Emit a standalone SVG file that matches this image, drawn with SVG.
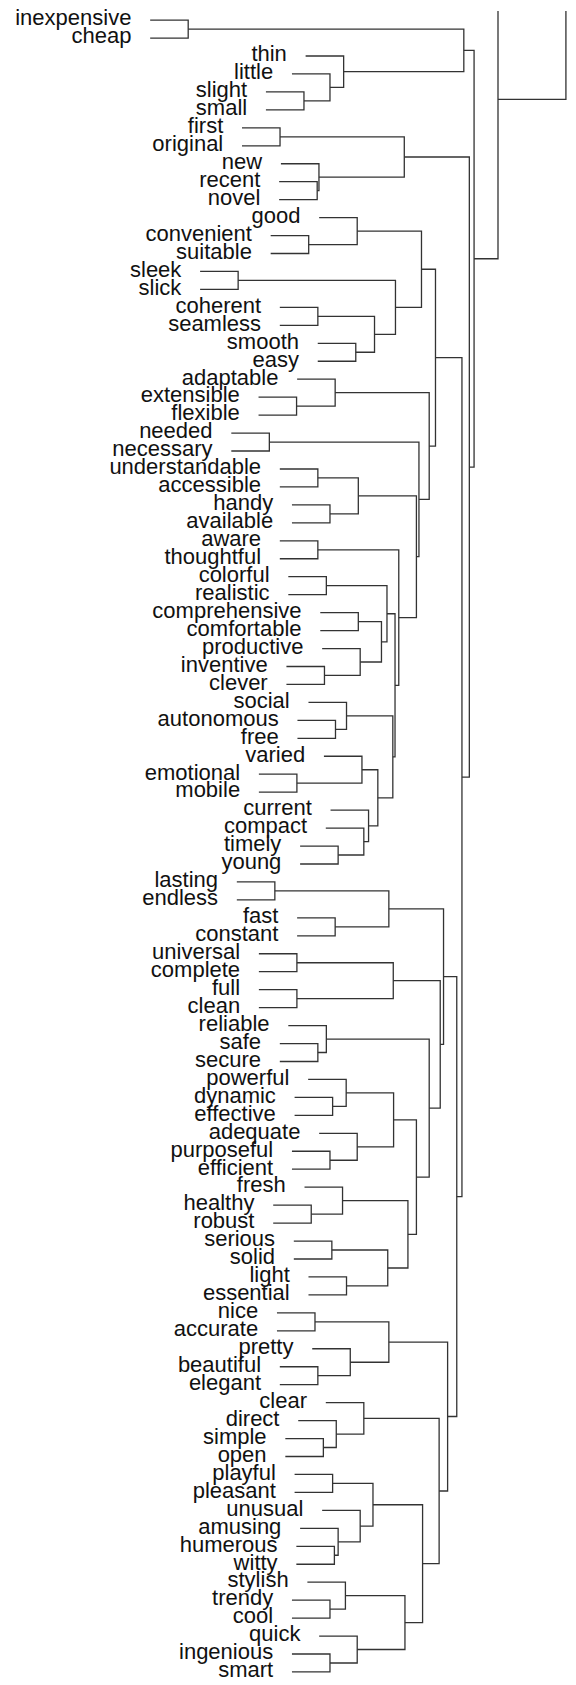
<svg xmlns="http://www.w3.org/2000/svg" width="576" height="1685" viewBox="0 0 576 1685">
<style>
.lbl{font-family:"Liberation Sans",Arial,Helvetica,sans-serif;font-size:22px;fill:#111;text-anchor:end}
.c path{fill:none;stroke:#333;stroke-width:1.3;vector-effect:non-scaling-stroke}
</style>
<rect width="576" height="1685" fill="#fff"/>
<g id="connectors" class="c" transform="scale(1.1025 1)">
<path d="M136.2 20.1 H170.7 V38.06 H136.2"/>
<path d="M241.2 91.92 H275.7 V109.88 H241.2"/>
<path d="M264.8 73.97 H299.3 V100.9 H275.7"/>
<path d="M277.2 56.01 H311.7 V87.44 H299.3"/>
<path d="M170.7 29.08 H420.7 V71.72 H311.7"/>
<path d="M219.5 127.83 H254 V145.79 H219.5"/>
<path d="M253.2 181.7 H287.7 V199.65 H253.2"/>
<path d="M254.8 163.74 H289.3 V190.68 H287.7"/>
<path d="M254 136.81 H366.7 V177.21 H289.3"/>
<path d="M245.5 235.56 H280 V253.52 H245.5"/>
<path d="M289.5 217.61 H324 V244.54 H280"/>
<path d="M181.5 271.47 H216 V289.43 H181.5"/>
<path d="M253.8 307.38 H288.3 V325.34 H253.8"/>
<path d="M288.2 343.29 H322.7 V361.25 H288.2"/>
<path d="M288.3 316.36 H339.7 V352.27 H322.7"/>
<path d="M216 280.45 H358.7 V334.32 H339.7"/>
<path d="M324 231.08 H382.3 V307.38 H358.7"/>
<path d="M234.5 397.16 H269 V415.11 H234.5"/>
<path d="M269.5 379.2 H304 V406.14 H269"/>
<path d="M209.8 433.07 H244.3 V451.02 H209.8"/>
<path d="M253.8 468.98 H288.3 V486.93 H253.8"/>
<path d="M264.8 504.89 H299.3 V522.84 H264.8"/>
<path d="M288.3 477.96 H325 V513.87 H299.3"/>
<path d="M253.8 540.8 H288.3 V558.75 H253.8"/>
<path d="M261.5 576.71 H296 V594.66 H261.5"/>
<path d="M290.5 612.62 H325 V630.57 H290.5"/>
<path d="M259.8 666.48 H294.3 V684.44 H259.8"/>
<path d="M292.2 648.53 H326.7 V675.46 H294.3"/>
<path d="M325 621.6 H346 V662 H326.7"/>
<path d="M296 585.69 H351 V641.8 H346"/>
<path d="M269.8 720.35 H304.3 V738.3 H269.8"/>
<path d="M279.8 702.39 H314.3 V729.33 H304.3"/>
<path d="M234.8 774.21 H269.3 V792.17 H234.8"/>
<path d="M293.8 756.26 H328.3 V783.19 H269.3"/>
<path d="M272.2 846.03 H306.7 V863.99 H272.2"/>
<path d="M295.5 828.08 H330 V855.01 H306.7"/>
<path d="M299.8 810.12 H334.3 V841.55 H330"/>
<path d="M328.3 769.73 H342.7 V825.83 H334.3"/>
<path d="M314.3 715.86 H356.3 V797.78 H342.7"/>
<path d="M351 613.74 H358.3 V756.82 H356.3"/>
<path d="M288.3 549.78 H361.7 V685.28 H358.3"/>
<path d="M325 495.91 H377.7 V617.53 H361.7"/>
<path d="M244.3 442.05 H380 V556.72 H377.7"/>
<path d="M304 392.67 H389.3 V499.38 H380"/>
<path d="M382.3 269.23 H395 V446.03 H389.3"/>
<path d="M214.8 881.94 H249.3 V899.9 H214.8"/>
<path d="M269.5 917.85 H304 V935.81 H269.5"/>
<path d="M249.3 890.92 H352.7 V926.83 H304"/>
<path d="M234.8 953.76 H269.3 V971.72 H234.8"/>
<path d="M234.8 989.67 H269.3 V1007.63 H234.8"/>
<path d="M269.3 962.74 H356.7 V998.65 H269.3"/>
<path d="M253.8 1043.54 H288.3 V1061.49 H253.8"/>
<path d="M261.5 1025.58 H296 V1052.52 H288.3"/>
<path d="M267.2 1097.4 H301.7 V1115.36 H267.2"/>
<path d="M279.5 1079.45 H314 V1106.38 H301.7"/>
<path d="M264.8 1151.27 H299.3 V1169.22 H264.8"/>
<path d="M289.5 1133.31 H324 V1160.25 H299.3"/>
<path d="M314 1092.92 H357 V1146.78 H324"/>
<path d="M247.8 1205.13 H282.3 V1223.09 H247.8"/>
<path d="M276.2 1187.18 H310.7 V1214.11 H282.3"/>
<path d="M266.5 1241.04 H301 V1259 H266.5"/>
<path d="M279.8 1276.95 H314.3 V1294.91 H279.8"/>
<path d="M301 1250.02 H351.7 V1285.93 H314.3"/>
<path d="M310.7 1200.65 H370 V1267.98 H351.7"/>
<path d="M357 1119.85 H377.7 V1234.31 H370"/>
<path d="M296 1039.05 H389.3 V1177.08 H377.7"/>
<path d="M356.7 980.7 H399.3 V1108.07 H389.3"/>
<path d="M352.7 908.87 H402.3 V1044.38 H399.3"/>
<path d="M251.2 1312.86 H285.7 V1330.82 H251.2"/>
<path d="M253.8 1366.73 H288.3 V1384.68 H253.8"/>
<path d="M283.2 1348.77 H317.7 V1375.7 H288.3"/>
<path d="M285.7 1321.84 H352.7 V1362.24 H317.7"/>
<path d="M258.8 1438.55 H293.3 V1456.5 H258.8"/>
<path d="M270.5 1420.59 H305 V1447.52 H293.3"/>
<path d="M295.5 1402.64 H330 V1434.06 H305"/>
<path d="M267.2 1474.46 H301.7 V1492.41 H267.2"/>
<path d="M268.8 1546.28 H303.3 V1564.23 H268.8"/>
<path d="M272.2 1528.32 H306.7 V1555.25 H303.3"/>
<path d="M292.2 1510.37 H326.7 V1541.79 H306.7"/>
<path d="M301.7 1483.43 H338.3 V1526.08 H326.7"/>
<path d="M264.8 1600.14 H299.3 V1618.1 H264.8"/>
<path d="M278.8 1582.19 H313.3 V1609.12 H299.3"/>
<path d="M264.8 1654.01 H299.3 V1671.96 H264.8"/>
<path d="M289.5 1636.05 H324 V1662.98 H299.3"/>
<path d="M313.3 1595.65 H367.3 V1649.52 H324"/>
<path d="M338.3 1504.75 H383.3 V1622.58 H367.3"/>
<path d="M330 1418.35 H398.3 V1563.67 H383.3"/>
<path d="M352.7 1342.04 H406 V1491.01 H398.3"/>
<path d="M402.3 976.63 H414.3 V1416.52 H406"/>
<path d="M395 357.63 H419 V1196.58 H414.3"/>
<path d="M366.7 157.01 H425.7 V777.1 H419"/>
<path d="M420.7 50.4 H430 V467.06 H425.7"/>
<path d="M430 258.73 H451.7 V11"/>
<path d="M451.7 99.3 H513.3 V11"/>
</g>
<g id="leaf-inexpensive"><text class="lbl" transform="translate(131.42 25.4)">inexpensive</text></g>
<g id="leaf-cheap"><text class="lbl" transform="translate(131.42 43.36)">cheap</text></g>
<g id="leaf-thin"><text class="lbl" transform="translate(286.87 61.31)">thin</text></g>
<g id="leaf-little"><text class="lbl" transform="translate(273.2 79.27)">little</text></g>
<g id="leaf-slight"><text class="lbl" transform="translate(247.18 97.22)">slight</text></g>
<g id="leaf-small"><text class="lbl" transform="translate(247.18 115.18)">small</text></g>
<g id="leaf-first"><text class="lbl" transform="translate(223.26 133.13)">first</text></g>
<g id="leaf-original"><text class="lbl" transform="translate(223.26 151.09)">original</text></g>
<g id="leaf-new"><text class="lbl" transform="translate(262.17 169.04)">new</text></g>
<g id="leaf-recent"><text class="lbl" transform="translate(260.41 187)">recent</text></g>
<g id="leaf-novel"><text class="lbl" transform="translate(260.41 204.95)">novel</text></g>
<g id="leaf-good"><text class="lbl" transform="translate(300.43 222.91)">good</text></g>
<g id="leaf-convenient"><text class="lbl" transform="translate(251.92 240.86)">convenient</text></g>
<g id="leaf-suitable"><text class="lbl" transform="translate(251.92 258.82)">suitable</text></g>
<g id="leaf-sleek"><text class="lbl" transform="translate(181.36 276.77)">sleek</text></g>
<g id="leaf-slick"><text class="lbl" transform="translate(181.36 294.73)">slick</text></g>
<g id="leaf-coherent"><text class="lbl" transform="translate(261.07 312.68)">coherent</text></g>
<g id="leaf-seamless"><text class="lbl" transform="translate(261.07 330.64)">seamless</text></g>
<g id="leaf-smooth"><text class="lbl" transform="translate(299 348.59)">smooth</text></g>
<g id="leaf-easy"><text class="lbl" transform="translate(299 366.55)">easy</text></g>
<g id="leaf-adaptable"><text class="lbl" transform="translate(278.38 384.5)">adaptable</text></g>
<g id="leaf-extensible"><text class="lbl" transform="translate(239.79 402.46)">extensible</text></g>
<g id="leaf-flexible"><text class="lbl" transform="translate(239.79 420.41)">flexible</text></g>
<g id="leaf-needed"><text class="lbl" transform="translate(212.56 438.37)">needed</text></g>
<g id="leaf-necessary"><text class="lbl" transform="translate(212.56 456.32)">necessary</text></g>
<g id="leaf-understandable"><text class="lbl" transform="translate(261.07 474.28)">understandable</text></g>
<g id="leaf-accessible"><text class="lbl" transform="translate(261.07 492.23)">accessible</text></g>
<g id="leaf-handy"><text class="lbl" transform="translate(273.2 510.19)">handy</text></g>
<g id="leaf-available"><text class="lbl" transform="translate(273.2 528.14)">available</text></g>
<g id="leaf-aware"><text class="lbl" transform="translate(261.07 546.1)">aware</text></g>
<g id="leaf-thoughtful"><text class="lbl" transform="translate(261.07 564.05)">thoughtful</text></g>
<g id="leaf-colorful"><text class="lbl" transform="translate(269.56 582.01)">colorful</text></g>
<g id="leaf-realistic"><text class="lbl" transform="translate(269.56 599.96)">realistic</text></g>
<g id="leaf-comprehensive"><text class="lbl" transform="translate(301.53 617.92)">comprehensive</text></g>
<g id="leaf-comfortable"><text class="lbl" transform="translate(301.53 635.87)">comfortable</text></g>
<g id="leaf-productive"><text class="lbl" transform="translate(303.41 653.83)">productive</text></g>
<g id="leaf-inventive"><text class="lbl" transform="translate(267.69 671.78)">inventive</text></g>
<g id="leaf-clever"><text class="lbl" transform="translate(267.69 689.74)">clever</text></g>
<g id="leaf-social"><text class="lbl" transform="translate(289.74 707.69)">social</text></g>
<g id="leaf-autonomous"><text class="lbl" transform="translate(278.71 725.65)">autonomous</text></g>
<g id="leaf-free"><text class="lbl" transform="translate(278.71 743.6)">free</text></g>
<g id="leaf-varied"><text class="lbl" transform="translate(305.17 761.56)">varied</text></g>
<g id="leaf-emotional"><text class="lbl" transform="translate(240.12 779.51)">emotional</text></g>
<g id="leaf-mobile"><text class="lbl" transform="translate(240.12 797.47)">mobile</text></g>
<g id="leaf-current"><text class="lbl" transform="translate(311.79 815.42)">current</text></g>
<g id="leaf-compact"><text class="lbl" transform="translate(307.05 833.38)">compact</text></g>
<g id="leaf-timely"><text class="lbl" transform="translate(281.36 851.33)">timely</text></g>
<g id="leaf-young"><text class="lbl" transform="translate(281.36 869.29)">young</text></g>
<g id="leaf-lasting"><text class="lbl" transform="translate(218.07 887.24)">lasting</text></g>
<g id="leaf-endless"><text class="lbl" transform="translate(218.07 905.2)">endless</text></g>
<g id="leaf-fast"><text class="lbl" transform="translate(278.38 923.15)">fast</text></g>
<g id="leaf-constant"><text class="lbl" transform="translate(278.38 941.11)">constant</text></g>
<g id="leaf-universal"><text class="lbl" transform="translate(240.12 959.06)">universal</text></g>
<g id="leaf-complete"><text class="lbl" transform="translate(240.12 977.02)">complete</text></g>
<g id="leaf-full"><text class="lbl" transform="translate(240.12 994.97)">full</text></g>
<g id="leaf-clean"><text class="lbl" transform="translate(240.12 1012.93)">clean</text></g>
<g id="leaf-reliable"><text class="lbl" transform="translate(269.56 1030.88)">reliable</text></g>
<g id="leaf-safe"><text class="lbl" transform="translate(261.07 1048.84)">safe</text></g>
<g id="leaf-secure"><text class="lbl" transform="translate(261.07 1066.79)">secure</text></g>
<g id="leaf-powerful"><text class="lbl" transform="translate(289.41 1084.75)">powerful</text></g>
<g id="leaf-dynamic"><text class="lbl" transform="translate(275.85 1102.7)">dynamic</text></g>
<g id="leaf-effective"><text class="lbl" transform="translate(275.85 1120.66)">effective</text></g>
<g id="leaf-adequate"><text class="lbl" transform="translate(300.43 1138.61)">adequate</text></g>
<g id="leaf-purposeful"><text class="lbl" transform="translate(273.2 1156.57)">purposeful</text></g>
<g id="leaf-efficient"><text class="lbl" transform="translate(273.2 1174.52)">efficient</text></g>
<g id="leaf-fresh"><text class="lbl" transform="translate(285.77 1192.48)">fresh</text></g>
<g id="leaf-healthy"><text class="lbl" transform="translate(254.46 1210.43)">healthy</text></g>
<g id="leaf-robust"><text class="lbl" transform="translate(254.46 1228.39)">robust</text></g>
<g id="leaf-serious"><text class="lbl" transform="translate(275.07 1246.34)">serious</text></g>
<g id="leaf-solid"><text class="lbl" transform="translate(275.07 1264.3)">solid</text></g>
<g id="leaf-light"><text class="lbl" transform="translate(289.74 1282.25)">light</text></g>
<g id="leaf-essential"><text class="lbl" transform="translate(289.74 1300.21)">essential</text></g>
<g id="leaf-nice"><text class="lbl" transform="translate(258.21 1318.16)">nice</text></g>
<g id="leaf-accurate"><text class="lbl" transform="translate(258.21 1336.12)">accurate</text></g>
<g id="leaf-pretty"><text class="lbl" transform="translate(293.49 1354.07)">pretty</text></g>
<g id="leaf-beautiful"><text class="lbl" transform="translate(261.07 1372.03)">beautiful</text></g>
<g id="leaf-elegant"><text class="lbl" transform="translate(261.07 1389.98)">elegant</text></g>
<g id="leaf-clear"><text class="lbl" transform="translate(307.05 1407.94)">clear</text></g>
<g id="leaf-direct"><text class="lbl" transform="translate(279.48 1425.89)">direct</text></g>
<g id="leaf-simple"><text class="lbl" transform="translate(266.58 1443.85)">simple</text></g>
<g id="leaf-open"><text class="lbl" transform="translate(266.58 1461.8)">open</text></g>
<g id="leaf-playful"><text class="lbl" transform="translate(275.85 1479.76)">playful</text></g>
<g id="leaf-pleasant"><text class="lbl" transform="translate(275.85 1497.71)">pleasant</text></g>
<g id="leaf-unusual"><text class="lbl" transform="translate(303.41 1515.67)">unusual</text></g>
<g id="leaf-amusing"><text class="lbl" transform="translate(281.36 1533.62)">amusing</text></g>
<g id="leaf-humerous"><text class="lbl" transform="translate(277.61 1551.58)">humerous</text></g>
<g id="leaf-witty"><text class="lbl" transform="translate(277.61 1569.53)">witty</text></g>
<g id="leaf-stylish"><text class="lbl" transform="translate(288.63 1587.49)">stylish</text></g>
<g id="leaf-trendy"><text class="lbl" transform="translate(273.2 1605.44)">trendy</text></g>
<g id="leaf-cool"><text class="lbl" transform="translate(273.2 1623.4)">cool</text></g>
<g id="leaf-quick"><text class="lbl" transform="translate(300.43 1641.35)">quick</text></g>
<g id="leaf-ingenious"><text class="lbl" transform="translate(273.2 1659.31)">ingenious</text></g>
<g id="leaf-smart"><text class="lbl" transform="translate(273.2 1677.26)">smart</text></g>
</svg>
